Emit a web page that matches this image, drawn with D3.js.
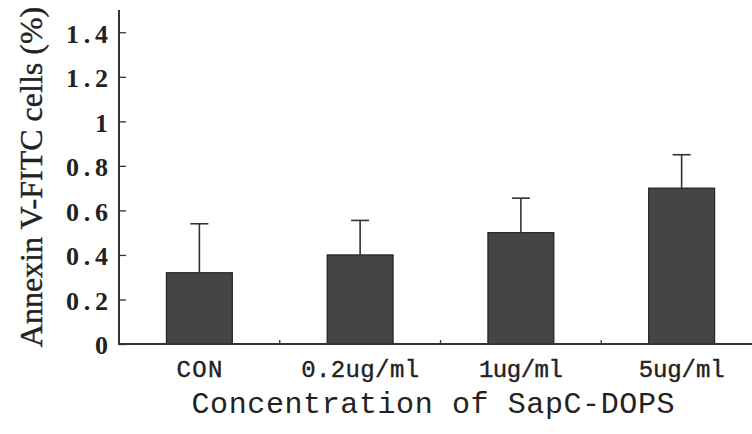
<!DOCTYPE html>
<html lang="en">
<head>
    <meta charset="UTF-8">
    <script type="text/javascript" src="https://cdn.jsdelivr.net/npm/d3@7/dist/d3.min.js"></script>
    <title>Annexin V-FITC</title>
    <style>
        body { margin: 0; background: #fff; }
    </style>
</head>
<body>

</body>
<script>

    // data
    let categories = ["CON", "0.2ug/ml", "1ug/ml", "5ug/ml"],
        means = [0.32, 0.40, 0.50, 0.70],
        errors = [0.22, 0.155, 0.155, 0.15],
        yTicks = [0, 0.2, 0.4, 0.6, 0.8, 1, 1.2, 1.4];

    let width = 752,
        height = 434,
        x = d3.scaleBand()
            .domain(categories)
            .range([119, 762])
            .padding(0),
        y = d3.scaleLinear()
            .domain([0, 1.5])
            .range([344, 10]);

    let barW = x.bandwidth() * 0.41,
        ink = "#333",
        serif = "'Liberation Serif', 'Times New Roman', serif",
        mono = "'Liberation Mono', monospace";

    let svg = d3.select("body")
        .append("svg")
        .attr("width", width)
        .attr("height", height);

    // bars
    svg.selectAll("rect.bar")
        .data(categories)
        .enter()
        .append("rect")
        .attr("class", "bar")
        .attr("x", d => x(d) + (x.bandwidth() - barW) / 2)
        .attr("y", (d, i) => y(means[i]))
        .attr("width", barW)
        .attr("height", (d, i) => y(0) - y(means[i]))
        .attr("fill", "#454545")
        .attr("stroke", "#222")
        .attr("stroke-width", 1.2);

    // error bars, upper only
    let cx = d => x(d) + x.bandwidth() / 2;
    svg.selectAll("line.err")
        .data(categories)
        .enter()
        .append("line")
        .attr("class", "err")
        .attr("x1", cx).attr("x2", cx)
        .attr("y1", (d, i) => y(means[i]))
        .attr("y2", (d, i) => y(means[i] + errors[i]))
        .attr("stroke", ink)
        .attr("stroke-width", 1.6);

    svg.selectAll("line.cap")
        .data(categories)
        .enter()
        .append("line")
        .attr("class", "cap")
        .attr("x1", d => cx(d) - 9).attr("x2", d => cx(d) + 9)
        .attr("y1", (d, i) => y(means[i] + errors[i]))
        .attr("y2", (d, i) => y(means[i] + errors[i]))
        .attr("stroke", ink)
        .attr("stroke-width", 1.6);

    // y axis
    let yAxis = svg.append("g")
        .attr("transform", "translate(119,0)")
        .call(d3.axisLeft(y)
            .tickValues(yTicks)
            .tickSize(-7)
            .tickPadding(11)
            .tickFormat(d3.format("~g")));
    yAxis.select(".domain")
        .attr("d", `M0,${y(1.5)}V${y(0)}`)
        .attr("stroke", ink)
        .attr("stroke-width", 2);
    yAxis.selectAll(".tick line").attr("stroke", ink).attr("stroke-width", 1.3);
    yAxis.selectAll(".tick text")
        .attr("fill", "#222")
        .attr("dy", "0.38em")
        .style("font-family", serif)
        .style("font-weight", "bold")
        .style("font-size", "26px")
        .each(function () {
            let t = d3.select(this);
            if (t.text().length > 1) t.attr("textLength", 42).attr("lengthAdjust", "spacing");
        });

    // x axis
    let labelW = [46, 118, 84, 86];
    let xAxis = svg.append("g")
        .attr("transform", `translate(0,${y(0)})`)
        .call(d3.axisBottom(x).tickSize(0).tickPadding(16));
    xAxis.select(".domain")
        .attr("d", `M118,0H762`)
        .attr("stroke", ink)
        .attr("stroke-width", 2);
    xAxis.selectAll(".tick text")
        .attr("fill", "#222")
        .style("font-family", mono)
        .style("font-size", "24px")
        .attr("stroke", "#222")
        .attr("stroke-width", 0.4)
        .attr("textLength", (d, i) => labelW[i])
        .attr("lengthAdjust", "spacing");

    // small separators between categories
    xAxis.selectAll("line.sep")
        .data(categories.slice(1))
        .enter()
        .append("line")
        .attr("class", "sep")
        .attr("x1", d => x(d)).attr("x2", d => x(d))
        .attr("y1", 0).attr("y2", -4)
        .attr("stroke", ink)
        .attr("stroke-width", 1.3);

    // axis titles
    svg.append("text")
        .attr("transform", "translate(42,177) rotate(-90)")
        .attr("text-anchor", "middle")
        .attr("fill", "#222")
        .attr("stroke", "#222")
        .attr("stroke-width", 0.4)
        .style("font-family", serif)
        .style("font-size", "32px")
        .text("Annexin V-FITC cells (%)");

    svg.append("text")
        .attr("x", 433)
        .attr("y", 413)
        .attr("text-anchor", "middle")
        .attr("fill", "#222")
        .attr("textLength", 483)
        .attr("lengthAdjust", "spacing")
        .style("font-family", mono)
        .style("font-size", "30px")
        .text("Concentration of SapC-DOPS");

</script>
</html>
